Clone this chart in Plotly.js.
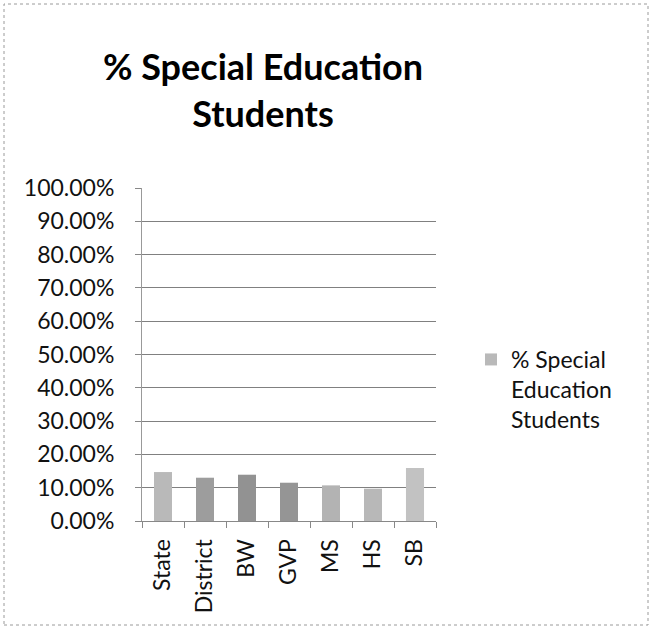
<!DOCTYPE html>
<html>
<head>
<meta charset="utf-8">
<script src="https://cdn.plot.ly/plotly-3.0.1.min.js"></script>
<style>html,body{margin:0;padding:0;background:#fff;}#chart{width:652px;height:629px;}</style>
</head>
<body>
<div id="chart"></div>
<script>
// Data
const categories = ["State", "District", "BW", "GVP", "MS", "HS", "SB"];
const specialEdPct = [0.147, 0.130, 0.139, 0.115, 0.107, 0.097, 0.159];
const yTickValues = [0, 0.1, 0.2, 0.3, 0.4, 0.5, 0.6, 0.7, 0.8, 0.9, 1.0];
const yTickLabels = ["0.00%", "10.00%", "20.00%", "30.00%", "40.00%", "50.00%", "60.00%", "70.00%", "80.00%", "90.00%", "100.00%"];
const seriesName = "% Special<br>Education<br>Students";
const chartTitle = "% Special Education<br>Students";

// Styles (scanned halftone greys)
const barColors = ["#b9b9b9", "#9d9d9d", "#929292", "#959595", "#b3b3b3", "#b8b8b8", "#c2c2c2"];
const FONT = "Lato, 'Open Sans', sans-serif";

const trace = {
  type: "bar",
  x: categories,
  y: specialEdPct,
  name: seriesName,
  showlegend: true,
  marker: {color: barColors, line: {width: 0}}
};

const W = 652, H = 629;
const m = {l: 142, r: 216, t: 188, b: 108};
const pw = W - m.l - m.r, ph = H - m.t - m.b;
const px = v => (v - m.l) / pw;
const py = v => (H - m.b - v) / ph;

const layout = {
  width: W, height: H,
  margin: m,
  paper_bgcolor: "#ffffff",
  plot_bgcolor: "#ffffff",
  font: {family: FONT, color: "#111111", size: 23},
  title: {
    text: chartTitle,
    font: {family: FONT, size: 36, color: "#000000", weight: "bold"},
    x: 263 / W, xref: "container", xanchor: "center",
    y: 1 - 80 / H, yref: "container", yanchor: "top"
  },
  bargap: 0.57,
  xaxis: {
    type: "category",
    showgrid: false,
    showline: true, linecolor: "#888888", linewidth: 1,
    ticks: "outside", tickson: "boundaries", ticklen: 6, tickcolor: "#888888",
    tickangle: -90,
    tickfont: {family: FONT, size: 23, color: "#111111"},
    ticklabelstandoff: 8,
    zeroline: false
  },
  yaxis: {
    range: [0, 1.0],
    tickvals: yTickValues,
    ticktext: yTickLabels,
    showgrid: true, gridcolor: "#808080", gridwidth: 1,
    showline: true, linecolor: "#999999", linewidth: 1,
    ticks: "outside", ticklen: 6, tickcolor: "#888888",
    tickfont: {family: FONT, size: 23, color: "#111111"},
    ticklabelstandoff: 16,
    zeroline: false
  },
  legend: {
    x: px(471), xanchor: "left",
    y: py(338), yanchor: "top",
    valign: "top",
    font: {family: FONT, size: 23, color: "#111111"},
    bgcolor: "rgba(0,0,0,0)",
    itemwidth: 30
  },
  shapes: [{
    type: "rect", xref: "paper", yref: "paper",
    x0: px(4), x1: px(648), y0: py(625), y1: py(4),
    line: {color: "#9a9a9a", width: 1, dash: "dot"},
    fillcolor: "rgba(0,0,0,0)", layer: "below"
  }]
};

Plotly.newPlot("chart", [trace], layout, {displayModeBar: false, staticPlot: true});
</script>
</body>
</html>
